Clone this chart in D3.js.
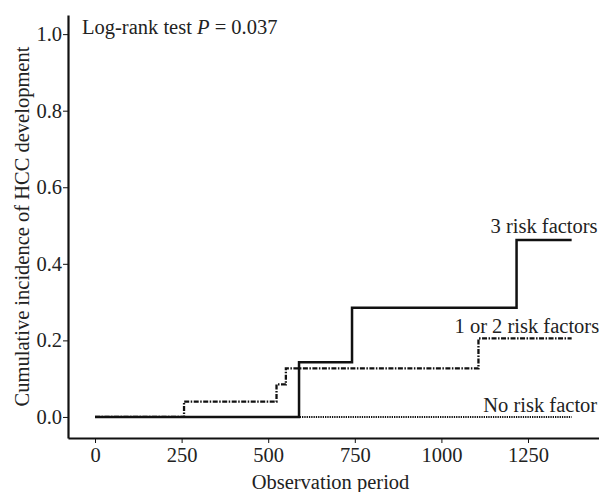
<!DOCTYPE html>
<html lang="en">
<head>
<meta charset="UTF-8">
<title>Cumulative incidence of HCC development</title>
<script src="https://cdn.jsdelivr.net/npm/d3@7/dist/d3.min.js"></script>
<style>
    body { margin: 0; background: #fff; }
    svg { display: block; font-family: "Liberation Serif", "Times New Roman", serif; }
</style>
</head>
<body>
<svg id="chart" width="599" height="492"></svg>
<script>
// step curves: [day, cumulative incidence]
const threeRisk = [[0, 0], [589, 0], [589, 0.143], [742, 0.143], [742, 0.285], [1217, 0.285], [1217, 0.462], [1376, 0.462]];
const oneTwoRisk = [[0, 0], [257, 0], [257, 0.04], [524, 0.04], [524, 0.085], [551, 0.085], [551, 0.127], [1107, 0.127], [1107, 0.205], [1376, 0.205]];
const noRisk = [[0, 0], [1376, 0]];

const xTicks = [0, 250, 500, 750, 1000, 1250];
const yTicks = [0, 0.2, 0.4, 0.6, 0.8, 1.0];

const seriesNames = ["3 risk factors", "1 or 2 risk factors", "No risk factor"];
const labelPos = [[1142, 0.48], [1038, 0.22], [1121, 0.014]];

const svg = d3.select("#chart");
const ink = "#111";
const fs = 20.5;

const x = d3.scaleLinear().domain([-78, 1455]).range([68, 599]);
const y = d3.scaleLinear().domain([-0.055, 1.05]).range([438, 15]);

// axes
const gx = svg.append("g")
    .attr("transform", "translate(0,438)")
    .call(d3.axisBottom(x).tickValues(xTicks).tickSize(5).tickSizeOuter(0).tickPadding(4).tickFormat(d3.format("d")));

const gy = svg.append("g")
    .attr("transform", "translate(68,0)")
    .call(d3.axisLeft(y).tickValues(yTicks).tickSize(5).tickSizeOuter(0).tickPadding(1).tickFormat(d3.format(".1f")));

[gx, gy].forEach(g => {
    g.attr("font-family", null);
    g.select(".domain").attr("stroke", ink).attr("stroke-width", 2.2);
    g.selectAll(".tick line").attr("stroke", ink).attr("stroke-width", 1);
    g.selectAll(".tick text").attr("fill", "#222").attr("font-size", fs);
});

// axis titles
svg.append("text")
    .attr("x", (x.range()[0] + x.range()[1]) / 2 - 3)
    .attr("y", 489)
    .attr("text-anchor", "middle")
    .attr("font-size", fs)
    .attr("fill", "#222")
    .text("Observation period");

svg.append("text")
    .attr("transform", `translate(29,${(y.range()[0] + y.range()[1]) / 2}) rotate(-90)`)
    .attr("text-anchor", "middle")
    .attr("font-size", fs)
    .attr("fill", "#222")
    .text("Cumulative incidence of HCC development");

// p-value annotation
const pText = svg.append("text")
    .attr("x", 82)
    .attr("y", 34)
    .attr("font-size", fs)
    .attr("fill", "#222");
pText.append("tspan").text("Log-rank test ");
pText.append("tspan").attr("font-style", "italic").text("P");
pText.append("tspan").text(" = 0.037");

// curves
const line = d3.line().x(d => x(d[0])).y(d => y(d[1]));

svg.append("path")
    .datum(noRisk)
    .attr("d", line)
    .attr("fill", "none")
    .attr("stroke", ink)
    .attr("stroke-width", 2)
    .attr("stroke-dasharray", "1.3,1");

svg.append("path")
    .datum(oneTwoRisk)
    .attr("d", line)
    .attr("fill", "none")
    .attr("stroke", ink)
    .attr("stroke-width", 2.3)
    .attr("stroke-dasharray", "5,1.5,1.5,1.5");

svg.append("path")
    .datum(threeRisk)
    .attr("d", line)
    .attr("fill", "none")
    .attr("stroke", ink)
    .attr("stroke-width", 2.5);

// curve labels
svg.selectAll(".curve-label")
    .data(seriesNames)
    .join("text")
    .attr("class", "curve-label")
    .attr("x", (d, i) => x(labelPos[i][0]))
    .attr("y", (d, i) => y(labelPos[i][1]))
    .attr("font-size", fs)
    .attr("fill", "#222")
    .text(d => d);
</script>
</body>
</html>
